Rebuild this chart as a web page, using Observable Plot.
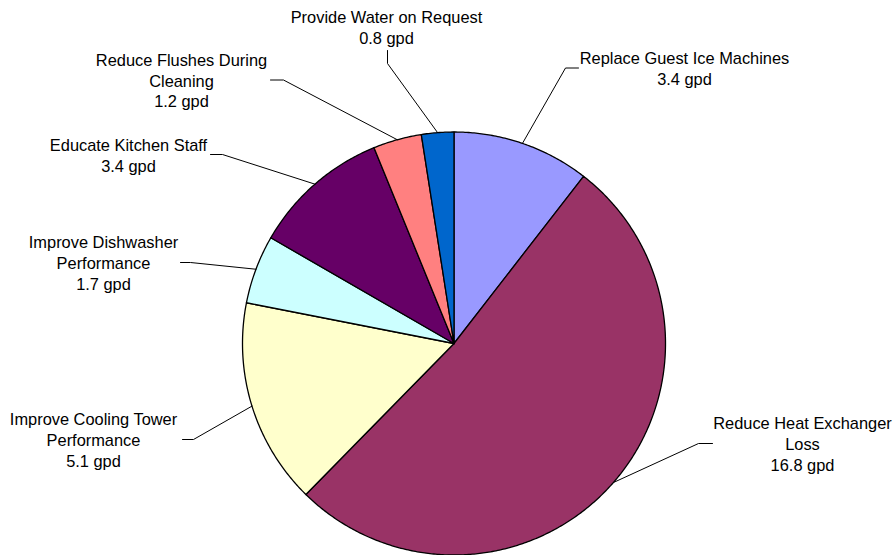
<!DOCTYPE html>
<html>
<head>
<meta charset="utf-8">
<script src="https://cdn.jsdelivr.net/npm/d3@7"></script>
<script src="https://cdn.jsdelivr.net/npm/@observablehq/plot@0.6"></script>
<style>
  html, body { margin: 0; padding: 0; background: #fff; }
  #chart svg { display: block; }
</style>
</head>
<body>
<div id="chart"></div>
<script>
// Water-saving measures and the daily savings of each (gallons per day)
const measures = [
  "Replace Guest Ice Machines",
  "Reduce Heat Exchanger\nLoss",
  "Improve Cooling Tower\nPerformance",
  "Improve Dishwasher\nPerformance",
  "Educate Kitchen Staff",
  "Reduce Flushes During\nCleaning",
  "Provide Water on Request"
];
const savings = [3.4, 16.8, 5.1, 1.7, 3.4, 1.2, 0.8];
const unit = "gpd";

// Slice colours, in the same order as the measures
const sliceColors = ["#9999FF", "#993366", "#FFFFCC", "#CCFFFF", "#660066", "#FF8080", "#0066CC"];

// Label placement, relative to the pie centre (x right, y down):
// text block centre, leader elbow, and end of the short leader stub
const labelLayout = [
  { tx: 230.5, ty: -275.5, ex: 111.5, ey: -275.5, sx: 124.5, sy: -275.5 },
  { tx: 348.5, ty: 100, ex: 244.5, ey: 100, sx: 258.5, sy: 100 },
  { tx: -360.5, ty: 96, ex: -260.5, ey: 96, sx: -271.5, sy: 96 },
  { tx: -350.5, ty: -81, ex: -263.5, ey: -81, sx: -273.5, sy: -81 },
  { tx: -325.5, ty: -189, ex: -231.5, ey: -189, sx: -243.5, sy: -189 },
  { tx: -272.5, ty: -263.5, ex: -170.5, ey: -263.5, sx: -183.5, sy: -263.5 },
  { tx: -67.5, ty: -316.5, ex: -66.5, ey: -280, sx: -66.5, sy: -293 }
];

const radius = 211.5;

// Angles start at 12 o'clock and run clockwise, in data order
const arcs = d3.pie().sort(null).value(d => d)(savings);

// Wedge outlines: centre, points along the arc, back to centre
const wedges = [];
arcs.forEach((a, i) => {
  const name = measures[i];
  const span = a.endAngle - a.startAngle;
  const steps = Math.max(2, Math.ceil(span / (Math.PI / 360)));
  wedges.push({ name, x: 0, y: 0 });
  for (let s = 0; s <= steps; s++) {
    const t = a.startAngle + span * s / steps;
    wedges.push({ name, x: radius * Math.sin(t), y: -radius * Math.cos(t) });
  }
  wedges.push({ name, x: 0, y: 0 });
});

// Leader lines: from the middle of each slice's rim to its label
const leaders = [];
arcs.forEach((a, i) => {
  const mid = (a.startAngle + a.endAngle) / 2;
  const L = labelLayout[i];
  leaders.push({ k: i, x: radius * Math.sin(mid), y: -radius * Math.cos(mid) });
  leaders.push({ k: i, x: L.ex, y: L.ey });
  leaders.push({ k: i, x: L.sx, y: L.sy });
});

const labels = measures.map((m, i) => ({
  text: `${m}\n${savings[i]} ${unit}`,
  x: labelLayout[i].tx,
  y: labelLayout[i].ty
}));

const chart = Plot.plot({
  width: 895,
  height: 555,
  margin: 0,
  x: { domain: [-453.5, 441.5], axis: null },
  y: { domain: [-343, 212], reverse: true, axis: null },
  color: { domain: measures, range: sliceColors },
  style: { fontFamily: "'Liberation Sans', Arial, sans-serif", background: "#fff" },
  marks: [
    Plot.line(wedges, {
      x: "x", y: "y", z: "name", fill: "name",
      stroke: "#000", strokeWidth: 1.3, strokeLinejoin: "round", curve: "linear"
    }),
    Plot.line(leaders, {
      x: "x", y: "y", z: "k", stroke: "#000", strokeWidth: 1, curve: "linear"
    }),
    Plot.text(labels, {
      x: "x", y: "y", text: "text",
      fontSize: 16.4, lineHeight: 1.27, fill: "#000", textAnchor: "middle"
    })
  ]
});

document.getElementById("chart").appendChild(chart);
</script>
</body>
</html>
